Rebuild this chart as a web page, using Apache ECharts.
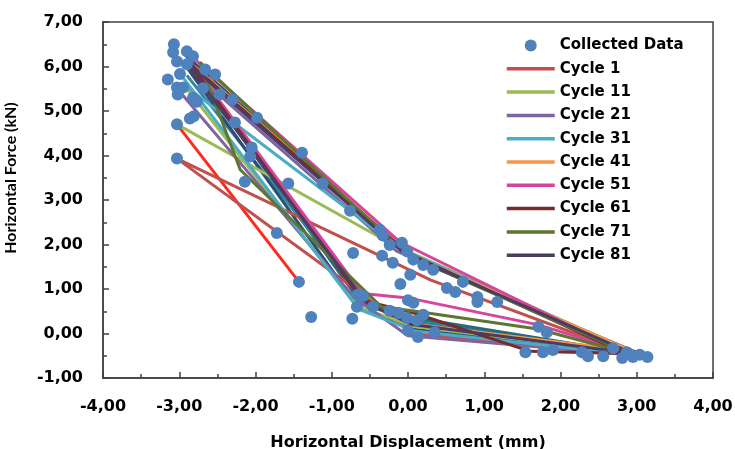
<!DOCTYPE html>
<html>
<head>
<meta charset="utf-8">
<script src="https://cdn.jsdelivr.net/npm/echarts@6/dist/echarts.min.js"></script>
<style>
  html, body { margin: 0; padding: 0; background: #fff; }
  #chart { width: 735px; height: 449px; }
</style>
</head>
<body>
<div id="chart"></div>
<script>
// measured points [displacement mm, force kN]
var collected = [
  [-3.07, 6.50], [-3.08, 6.32], [-2.90, 6.34], [-2.82, 6.23], [-3.03, 6.11], [-2.90, 6.05],
  [-3.15, 5.71], [-2.99, 5.83], [-2.66, 5.93], [-2.53, 5.82], [-3.03, 5.53], [-2.95, 5.53],
  [-3.02, 5.37], [-2.69, 5.51], [-2.82, 5.30], [-2.77, 5.21], [-2.47, 5.37], [-2.30, 5.26],
  [-1.98, 4.85], [-2.27, 4.74], [-2.86, 4.83], [-2.81, 4.88], [-3.03, 4.70], [-3.03, 3.93],
  [-2.05, 4.18], [-2.07, 3.98], [-2.14, 3.41], [-1.57, 3.37], [-1.39, 4.06], [-1.12, 3.37],
  [-0.76, 2.76], [-0.37, 2.33], [-0.33, 2.20], [-1.72, 2.26], [-0.72, 1.81], [-0.24, 1.99],
  [-0.08, 2.04], [-0.34, 1.75], [-0.20, 1.59], [-0.01, 1.84], [0.07, 1.66], [0.20, 1.54],
  [0.33, 1.43], [0.03, 1.32], [-0.10, 1.11], [0.51, 1.02], [0.62, 0.93], [0.72, 1.16],
  [0.91, 0.82], [0.91, 0.71], [1.17, 0.71], [-1.43, 1.16], [-1.27, 0.37], [-0.73, 0.33],
  [-0.66, 0.87], [-0.59, 0.84], [-0.67, 0.60], [-0.46, 0.60], [0.00, 0.75], [0.07, 0.69],
  [-0.24, 0.51], [-0.12, 0.46], [-0.01, 0.35], [0.12, 0.30], [0.20, 0.42], [0.00, 0.06],
  [0.13, -0.08], [0.35, 0.03], [1.71, 0.15], [1.82, 0.03], [1.54, -0.42], [1.77, -0.42],
  [1.90, -0.37], [2.28, -0.42], [2.36, -0.51], [2.56, -0.51], [2.69, -0.33], [2.81, -0.55],
  [2.95, -0.53], [3.04, -0.48], [3.14, -0.53], [2.87, -0.42]
];

var cycle1 = [[-3.03, 3.93], [0.30, 1.20], [2.90, -0.45], [0.05, 0.00], [-0.65, 0.95], [-3.03, 3.93]];
var cycle11 = [[-3.03, 4.70], [-0.20, 2.00], [3.00, -0.45], [0.10, 0.15], [-0.65, 0.60], [-2.90, 5.50]];
var cycle21 = [[-2.90, 6.00], [-0.15, 1.85], [3.05, -0.50], [0.00, -0.05], [-0.70, 0.80], [-3.00, 5.45]];
var cycle31 = [[-2.95, 5.60], [-0.10, 1.90], [3.05, -0.50], [0.10, 0.05], [-0.65, 0.55], [-2.95, 5.75]];
var cycle41 = [[-2.80, 6.00], [0.05, 1.75], [2.95, -0.40], [0.10, 0.20], [-0.55, 0.70], [-2.80, 6.00]];
var cycle51 = [[-2.82, 6.20], [-0.10, 2.05], [2.75, -0.35], [1.70, 0.20], [0.00, 0.80], [-0.60, 0.90], [-2.85, 6.10]];
var cycle61 = [[-2.85, 6.05], [0.00, 1.80], [2.85, -0.45], [1.60, -0.40], [0.10, 0.45], [-0.60, 0.75], [-2.85, 6.05]];
var cycle71 = [[-2.73, 6.10], [0.00, 1.75], [2.90, -0.45], [1.70, 0.10], [0.10, 0.50], [-0.35, 0.60], [-2.20, 3.68], [-2.73, 6.09]];
var cycle81 = [[-2.90, 6.10], [-0.05, 1.80], [2.95, -0.45], [0.05, 0.20], [-0.55, 0.70], [-2.90, 6.05]];

// other cycles drawn without a legend entry
var extraRed = [[-3.03, 4.70], [-1.43, 1.16]];
var extraT1 = [[-2.90, 6.20], [-0.10, 1.90], [3.00, -0.45], [0.05, 0.30], [-0.60, 0.70], [-2.85, 6.00]];
var extraT2 = [[-2.85, 6.00], [0.00, 1.80], [2.95, -0.45], [0.10, 0.35], [-0.60, 0.65], [-2.80, 5.90]];
var extraT3 = [[-2.80, 5.90], [-0.05, 1.85], [3.05, -0.50], [0.15, 0.25], [-0.50, 0.60], [-2.90, 5.80]];
var extraT4 = [[-2.95, 6.30], [0.05, 1.70], [3.10, -0.50], [0.05, 0.10], [-0.65, 0.60], [-2.95, 6.10]];

var xTicks = [-4, -3, -2, -1, 0, 1, 2, 3, 4];
var yTicks = [-1, 0, 1, 2, 3, 4, 5, 6, 7];

var cycles = [
  { name: 'Cycle 1', color: '#C0504D', data: cycle1 },
  { name: 'Cycle 11', color: '#9BBB59', data: cycle11 },
  { name: 'Cycle 21', color: '#8064A2', data: cycle21 },
  { name: 'Cycle 31', color: '#4BACC6', data: cycle31 },
  { name: 'Cycle 41', color: '#F79646', data: cycle41 },
  { name: 'Cycle 51', color: '#D6449E', data: cycle51 },
  { name: 'Cycle 61', color: '#772C2A', data: cycle61 },
  { name: 'Cycle 71', color: '#5F7530', data: cycle71 },
  { name: 'Cycle 81', color: '#4D3B62', data: cycle81 }
];
var extras = [
  { name: 'c_red', color: '#FF2A1F', data: extraRed },
  { name: 'c_t1', color: '#2E7D8C', data: extraT1 },
  { name: 'c_t2', color: '#276A7C', data: extraT2 },
  { name: 'c_t3', color: '#31859C', data: extraT3 },
  { name: 'c_t4', color: '#2C4D75', data: extraT4 }
];

var font = 'DejaVu Sans';
var axisCol = '#404040';
function fmt(v) { return v.toFixed(2).replace('.', ','); }

function lineSeries(c) {
  return {
    name: c.name, type: 'line', data: c.data, symbol: 'none',
    lineStyle: { color: c.color, width: 3 }, itemStyle: { color: c.color },
    z: 2, animation: false
  };
}

var series = [];
extras.forEach(function (c) { series.push(lineSeries(c)); });
cycles.forEach(function (c) { series.push(lineSeries(c)); });
series.push({
  name: 'Collected Data', type: 'scatter', data: collected, symbolSize: 12,
  itemStyle: { color: '#4F81BD', opacity: 1 }, z: 3, animation: false
});

var legendData = [{ name: 'Collected Data' }];
cycles.forEach(function (c) {
  legendData.push({ name: c.name, itemStyle: { opacity: 0 }, lineStyle: { width: 3.5, color: c.color } });
});

var chart = echarts.init(document.getElementById('chart'));
chart.setOption({
  backgroundColor: '#fff',
  animation: false,
  grid: {
    left: 103, right: 22, top: 22, bottom: 71, outerBoundsMode: 'none',
    show: true, borderColor: axisCol, borderWidth: 1.5
  },
  legend: {
    data: legendData,
    orient: 'vertical', left: 505, top: 38, padding: 0,
    itemWidth: 48, itemHeight: 12, itemGap: 8.3,
    textStyle: { fontFamily: font, fontWeight: 'bold', fontSize: 15, color: '#000', lineHeight: 14 }
  },
  xAxis: {
    type: 'value', min: xTicks[0], max: xTicks[xTicks.length - 1], interval: 1,
    name: 'Horizontal Displacement (mm)', nameLocation: 'middle', nameGap: 57,
    nameTextStyle: { fontFamily: font, fontWeight: 'bold', fontSize: 16, color: '#000' },
    axisLine: { onZero: false, lineStyle: { color: axisCol, width: 1.5 } },
    axisTick: { inside: true, length: 6, lineStyle: { color: axisCol, width: 1.5 } },
    minorTick: { show: true, splitNumber: 2, length: 4, lineStyle: { color: axisCol, width: 1.5 } },
    splitLine: { show: false },
    axisLabel: { fontFamily: font, fontWeight: 'bold', fontSize: 16, color: '#000', margin: 21, formatter: fmt }
  },
  yAxis: {
    type: 'value', min: yTicks[0], max: yTicks[yTicks.length - 1], interval: 1,
    name: 'Horizontal Force (kN)', nameLocation: 'middle', nameGap: 84,
    nameTextStyle: { fontFamily: 'Lato', fontWeight: 'bold', fontSize: 16, color: '#000', padding: [0, 0, 0, 44] },
    axisLine: { onZero: false, lineStyle: { color: axisCol, width: 1.5 } },
    axisTick: { inside: true, length: 6, lineStyle: { color: axisCol, width: 1.5 } },
    minorTick: { show: true, splitNumber: 2, length: 4, lineStyle: { color: axisCol, width: 1.5 } },
    splitLine: { show: false },
    axisLabel: { fontFamily: font, fontWeight: 'bold', fontSize: 16, color: '#000', margin: 20, formatter: fmt }
  },
  series: series
});
</script>
</body>
</html>
